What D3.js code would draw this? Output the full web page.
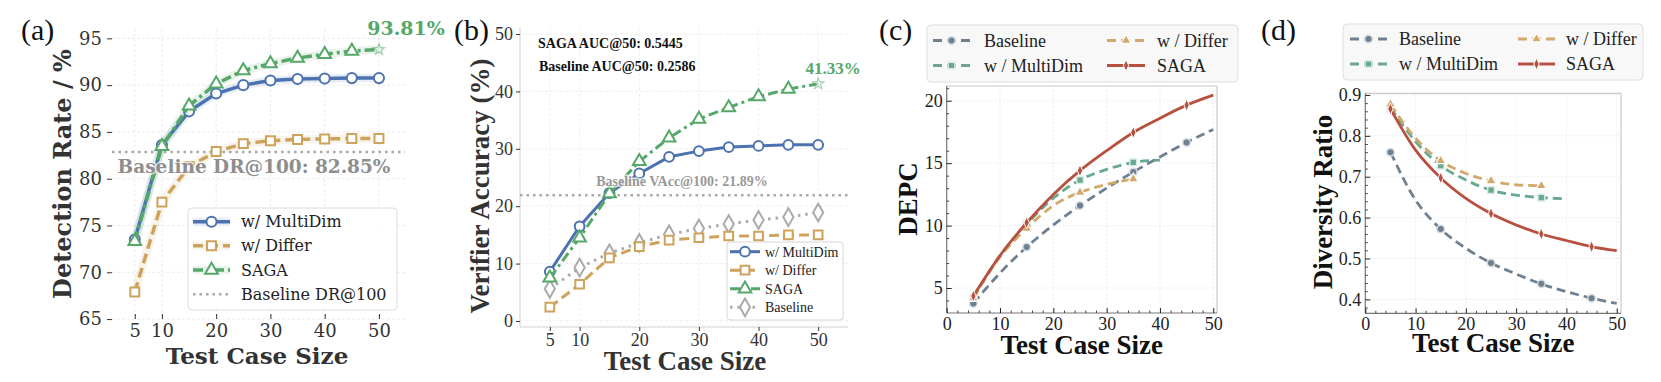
<!DOCTYPE html>
<html>
<head>
<meta charset="utf-8">
<script src="https://cdn.jsdelivr.net/npm/d3@7"></script>
<style>
  body { margin: 0; background: #fff; }
  svg { display: block; }
</style>
</head>
<body>
<svg id="fig" width="1661" height="382"></svg>
<script>
// ---- data ----
const sizes = [5, 10, 15, 20, 25, 30, 35, 40, 45, 50];

// (a) detection rate (%)
const drMultiDim = [73.5, 83.6, 87.2, 89.1, 90.0, 90.5, 90.65, 90.7, 90.75, 90.75];
const drDiffer   = [67.9, 77.5, 81.3, 82.9, 83.75, 84.05, 84.2, 84.25, 84.3, 84.3];
const drSaga     = [73.3, 83.45, 87.8, 90.15, 91.55, 92.3, 92.9, 93.3, 93.65, 93.81];
const drBaselineAt100 = 82.85;
const aTicksX = [5, 10, 20, 30, 40, 50];
const aTicksY = [65, 70, 75, 80, 85, 90, 95];

// (b) verifier accuracy (%)
const vaMultiDim = [8.6, 16.5, 22.3, 25.7, 28.6, 29.6, 30.3, 30.5, 30.7, 30.7];
const vaDiffer   = [2.4, 6.4, 11.0, 12.95, 14.1, 14.5, 14.8, 14.8, 15.0, 15.0];
const vaSaga     = [7.5, 14.5, 22.2, 27.8, 31.9, 35.2, 37.2, 39.1, 40.4, 41.33];
const vaBaseline = [5.6, 9.3, 11.8, 13.6, 15.1, 16.1, 16.9, 17.6, 18.1, 18.9];
const vaBaselineAt100 = 21.89;
const bTicksY = [0, 10, 20, 30, 40, 50];

// (c) DEPC
const depcBaseline = [3.77, 6.2, 8.28, 10.05, 11.6, 13.0, 14.29, 15.5, 16.66, 17.7];
const depcMultiDim = [4.2, 7.6, 10.1, 12.2, 13.65, 14.5, 15.06, 15.25];
const depcDiffer   = [4.2, 7.5, 9.78, 11.6, 12.66, 13.3, 13.73];
const depcSaga     = [4.36, 7.6, 10.23, 12.5, 14.4, 16.0, 17.46, 18.6, 19.65, 20.45];
const cTicksY = [5, 10, 15, 20];

// (d) diversity ratio
const divBaseline = [0.760, 0.643, 0.572, 0.525, 0.489, 0.462, 0.438, 0.419, 0.403, 0.390];
const divMultiDim = [0.870, 0.786, 0.727, 0.692, 0.667, 0.655, 0.649, 0.646];
const divDiffer   = [0.877, 0.794, 0.739, 0.708, 0.690, 0.680, 0.678];
const divSaga     = [0.866, 0.765, 0.697, 0.647, 0.610, 0.582, 0.560, 0.544, 0.529, 0.519];
const dTicksY = [0.4, 0.5, 0.6, 0.7, 0.8, 0.9];

const cdTicksX = [0, 10, 20, 30, 40, 50];

const svg = d3.select('#fig');
const DJ = "'DejaVu Serif', serif";
const TM = "'Liberation Serif', 'Times New Roman', serif";

const blue = '#4c72b0', tan = '#cda35b', green = '#55a868', grey = '#a8a8a8';
const cSlate = '#6f8191', cGreen = '#68a98f', cTan = '#d3a86c', cRed = '#b8503f';

function markerPath(type, size) {
  if (type === 'thin') {
    return `M0,${-size}L${size * 0.45},0L0,${size}L${-size * 0.45},0Z`;
  }
  const t = { circle: d3.symbolCircle, square: d3.symbolSquare, triangle: d3.symbolTriangle,
              diamond: d3.symbolDiamond, star: d3.symbolStar }[type];
  return d3.symbol(t, size)();
}

function text(g, x, y, s, o) {
  const t = g.append('text').attr('x', x).attr('y', y).text(s)
    .attr('font-family', o.font || TM)
    .attr('font-size', o.size)
    .attr('font-weight', o.bold ? 'bold' : 'normal')
    .attr('fill', o.fill || '#222')
    .attr('text-anchor', o.anchor || 'start');
  if (o.dy) t.attr('dy', o.dy);
  if (o.rotate) t.attr('transform', `rotate(-90,${x},${y})`);
  if (o.halo) t.attr('stroke', '#fff').attr('stroke-width', o.halo).attr('stroke-opacity', 0.7)
    .attr('paint-order', 'stroke').attr('stroke-linejoin', 'round');
  return t;
}

// one series: optional halo, line, markers
function series(g, x, y, xs, ys, st) {
  const pts = xs.slice(0, ys.length).map((v, i) => [v, ys[i]]);
  const line = d3.line().x(d => x(d[0])).y(d => y(d[1])).curve(st.curve || d3.curveLinear);
  if (st.halo) {
    g.append('path').attr('d', line(pts)).attr('fill', 'none')
      .attr('stroke', st.color).attr('stroke-opacity', 0.12)
      .attr('stroke-width', st.width + 5).attr('stroke-linecap', 'round').attr('stroke-linejoin', 'round');
  }
  g.append('path').attr('d', line(pts)).attr('fill', 'none')
    .attr('stroke', st.color).attr('stroke-width', st.width)
    .attr('stroke-dasharray', st.dash || null)
    .attr('stroke-linecap', st.cap || 'butt').attr('stroke-linejoin', 'round');
  const mk = pts.filter((d, i) => (st.every ? i % st.every === 0 : true) && !(st.skipLast && i === pts.length - 1));
  g.selectAll(null).data(mk).enter().append('path')
    .attr('d', markerPath(st.marker, st.msize))
    .attr('transform', d => `translate(${x(d[0])},${y(d[1])})`)
    .attr('fill', st.mfill).attr('stroke', st.mstroke).attr('stroke-width', st.msw);
}

function legendEntry(g, x0, x1, cy, st, label, o) {
  if (st.halo) {
    g.append('line').attr('x1', x0).attr('x2', x1).attr('y1', cy).attr('y2', cy)
      .attr('stroke', st.color).attr('stroke-opacity', 0.12).attr('stroke-width', st.width + 5);
  }
  g.append('line').attr('x1', x0).attr('x2', x1).attr('y1', cy).attr('y2', cy)
    .attr('stroke', st.color).attr('stroke-width', st.width).attr('stroke-dasharray', st.dash || null);
  g.append('path').attr('d', markerPath(st.marker, st.msize))
    .attr('transform', `translate(${(x0 + x1) / 2},${cy})`)
    .attr('fill', st.mfill).attr('stroke', st.mstroke).attr('stroke-width', st.msw);
  text(g, o.tx, cy, label, { size: o.size, font: o.font, dy: '0.35em', fill: o.fill || '#222' });
}

function styleAxis(ax, font, size, color) {
  ax.select('.domain').remove();
  ax.selectAll('line').attr('stroke', color);
  ax.selectAll('text').attr('font-family', font).attr('font-size', size).attr('fill', color);
}

// ================= (a) =================
{
  const g = svg.append('g');
  const x = d3.scaleLinear().domain([0.8, 54.8]).range([112, 405]);
  const y = d3.scaleLinear().domain([64.9, 96]).range([320, 29]);

  g.selectAll(null).data(aTicksY).enter().append('line')
    .attr('x1', 112).attr('x2', 405).attr('y1', d => y(d)).attr('y2', d => y(d))
    .attr('stroke', '#ebebeb').attr('stroke-width', 1).attr('stroke-dasharray', '3,2');
  g.selectAll(null).data(aTicksX).enter().append('line')
    .attr('y1', 29).attr('y2', 320).attr('x1', d => x(d)).attr('x2', d => x(d))
    .attr('stroke', '#ebebeb').attr('stroke-width', 1).attr('stroke-dasharray', '3,2');

  const ay = g.append('g').attr('transform', 'translate(112,0)')
    .call(d3.axisLeft(y).tickValues(aTicksY).tickSize(5).tickPadding(5));
  styleAxis(ay, DJ, 18, '#333');
  const ax = g.append('g').attr('transform', 'translate(0,314)')
    .call(d3.axisBottom(x).tickValues(aTicksX).tickSize(5).tickPadding(5));
  styleAxis(ax, DJ, 18, '#333');

  g.append('line').attr('x1', 112).attr('x2', 405)
    .attr('y1', y(drBaselineAt100)).attr('y2', y(drBaselineAt100))
    .attr('stroke', grey).attr('stroke-width', 2.5).attr('stroke-dasharray', '2.5,4');

  const stM = { color: blue, width: 3.5, halo: true, marker: 'circle', msize: 80, mfill: '#fff', mstroke: blue, msw: 2 };
  const stD = { color: tan, width: 3.5, halo: true, dash: '10,5', marker: 'square', msize: 80, mfill: '#fff', mstroke: tan, msw: 2 };
  const stS = { color: green, width: 3.5, halo: true, dash: '10,4,3,4', marker: 'triangle', msize: 70, mfill: '#fff', mstroke: green, msw: 2, skipLast: true };
  series(g, x, y, sizes, drDiffer, stD);
  series(g, x, y, sizes, drMultiDim, stM);
  series(g, x, y, sizes, drSaga, stS);
  g.append('path').attr('d', markerPath('star', 40))
    .attr('transform', `translate(${x(50)},${y(drSaga[9])})`)
    .attr('fill', '#fff').attr('stroke', green).attr('stroke-width', 1.2).attr('opacity', 0.5);

  text(g, 254, 173, `Baseline DR@100: ${drBaselineAt100}%`, { font: DJ, size: 18.5, bold: true, fill: '#8e8e8e', anchor: 'middle', halo: 3 });
  text(g, 406, 35, `${drSaga[9]}%`, { font: DJ, size: 19, bold: true, fill: green, anchor: 'middle' });

  // legend
  g.append('rect').attr('x', 188).attr('y', 208).attr('width', 209).attr('height', 102).attr('rx', 4)
    .attr('fill', '#fff').attr('fill-opacity', 0.85).attr('stroke', '#dcdcdc');
  const lo = { tx: 241, size: 16, font: DJ };
  legendEntry(g, 193, 230, 221.7, stM, 'w/ MultiDim', lo);
  legendEntry(g, 193, 230, 245.8, stD, 'w/ Differ', lo);
  legendEntry(g, 193, 230, 270, stS, 'SAGA', lo);
  g.append('line').attr('x1', 193).attr('x2', 230).attr('y1', 294.3).attr('y2', 294.3)
    .attr('stroke', grey).attr('stroke-width', 2.5).attr('stroke-dasharray', '2.5,4');
  text(g, 241, 294.3, 'Baseline DR@100', { size: 16, font: DJ, dy: '0.35em' });

  text(g, 71, 174, 'Detection Rate / %', { font: DJ, size: 24, bold: true, fill: '#333', anchor: 'middle', rotate: true });
  text(g, 257, 364, 'Test Case Size', { font: DJ, size: 23, bold: true, fill: '#333', anchor: 'middle' });
  text(g, 21, 40, '(a)', { size: 30, fill: '#111' });
}

// ================= (b) =================
{
  const g = svg.append('g');
  const x = d3.scaleLinear().domain([0, 55]).range([520, 848]);
  const y = d3.scaleLinear().domain([-1, 51]).range([326.7, 28.3]);

  g.selectAll(null).data(bTicksY).enter().append('line')
    .attr('x1', 520).attr('x2', 848).attr('y1', d => y(d)).attr('y2', d => y(d))
    .attr('stroke', '#efefef').attr('stroke-dasharray', '3,2');
  g.selectAll(null).data(aTicksX).enter().append('line')
    .attr('y1', 28).attr('y2', 327).attr('x1', d => x(d)).attr('x2', d => x(d))
    .attr('stroke', '#efefef').attr('stroke-dasharray', '3,2');
  g.append('line').attr('x1', 520).attr('x2', 520).attr('y1', 28).attr('y2', 327).attr('stroke', '#d0d0d0');
  g.append('line').attr('x1', 520).attr('x2', 848).attr('y1', 327).attr('y2', 327).attr('stroke', '#d0d0d0');

  const ay = g.append('g').attr('transform', 'translate(520,0)')
    .call(d3.axisLeft(y).tickValues(bTicksY).tickSize(4).tickPadding(3));
  styleAxis(ay, TM, 18, '#333');
  const ax = g.append('g').attr('transform', 'translate(0,327)')
    .call(d3.axisBottom(x).tickValues(aTicksX).tickSize(4).tickPadding(2));
  styleAxis(ax, TM, 18, '#333');

  g.append('line').attr('x1', 520).attr('x2', 848)
    .attr('y1', y(vaBaselineAt100)).attr('y2', y(vaBaselineAt100))
    .attr('stroke', grey).attr('stroke-width', 2.5).attr('stroke-dasharray', '2.5,4');

  const stM = { color: blue, width: 3, marker: 'circle', msize: 75, mfill: '#fff', mstroke: blue, msw: 2 };
  const stD = { color: tan, width: 3, dash: '10,5', marker: 'square', msize: 75, mfill: '#fff', mstroke: tan, msw: 2 };
  const stS = { color: green, width: 3, dash: '10,4,3,4', marker: 'triangle', msize: 70, mfill: '#fff', mstroke: green, msw: 2, skipLast: true };
  const stB = { color: '#aaa', width: 3, dash: '2.5,5', marker: 'diamond', msize: 90, mfill: '#fff', mstroke: '#aaa', msw: 2 };
  series(g, x, y, sizes, vaBaseline, stB);
  series(g, x, y, sizes, vaDiffer, stD);
  series(g, x, y, sizes, vaMultiDim, stM);
  series(g, x, y, sizes, vaSaga, stS);
  g.append('path').attr('d', markerPath('star', 40))
    .attr('transform', `translate(${x(50)},${y(vaSaga[9])})`)
    .attr('fill', '#fff').attr('stroke', green).attr('stroke-width', 1.2).attr('opacity', 0.5);

  text(g, 682, 186, `Baseline VAcc@100: ${vaBaselineAt100}%`, { size: 14, bold: true, fill: '#999', anchor: 'middle', halo: 3 });
  text(g, 833, 74, `${vaSaga[9]}%`, { size: 17, bold: true, fill: green, anchor: 'middle' });
  text(g, 538, 48, 'SAGA AUC@50: 0.5445', { size: 14, bold: true, fill: '#111' });
  text(g, 539, 71, 'Baseline AUC@50: 0.2586', { size: 14, bold: true, fill: '#111' });

  g.append('rect').attr('x', 727).attr('y', 242).attr('width', 116).attr('height', 78).attr('rx', 3)
    .attr('fill', '#fff').attr('fill-opacity', 0.9).attr('stroke', '#d6d6d6');
  const lo = { tx: 765, size: 14, font: TM };
  legendEntry(g, 730, 760, 251.7, stM, 'w/ MultiDim', lo);
  legendEntry(g, 730, 760, 270.2, stD, 'w/ Differ', lo);
  legendEntry(g, 730, 760, 288.8, stS, 'SAGA', lo);
  legendEntry(g, 730, 760, 307.3, stB, 'Baseline', lo);

  text(g, 489, 186, 'Verifier Accuracy (%)', { size: 27, bold: true, fill: '#333', anchor: 'middle', rotate: true });
  text(g, 685, 370, 'Test Case Size', { size: 27, bold: true, fill: '#333', anchor: 'middle' });
  text(g, 454, 40, '(b)', { size: 30, fill: '#111' });
}

// ============ (c) and (d): shared framed style ============
function framedPanel(cfg) {
  const g = svg.append('g');
  const { x, y, L, R, T, B } = cfg;

  g.selectAll(null).data(cdTicksX).enter().append('line')
    .attr('y1', T).attr('y2', B).attr('x1', d => x(d)).attr('x2', d => x(d))
    .attr('stroke', '#ececec').attr('stroke-dasharray', '2,2');
  g.selectAll(null).data(cfg.yTicks).enter().append('line')
    .attr('x1', L).attr('x2', R).attr('y1', d => y(d)).attr('y2', d => y(d))
    .attr('stroke', '#ececec').attr('stroke-dasharray', '2,2');

  // frame: darker left / bottom, light top / right
  g.append('line').attr('x1', L).attr('x2', R).attr('y1', T).attr('y2', T).attr('stroke', '#c8c8c8').attr('stroke-width', 1.2);
  g.append('line').attr('x1', R).attr('x2', R).attr('y1', T).attr('y2', B).attr('stroke', '#c8c8c8').attr('stroke-width', 1.2);
  g.append('line').attr('x1', L).attr('x2', L).attr('y1', T).attr('y2', B).attr('stroke', '#777').attr('stroke-width', 1.2);
  g.append('line').attr('x1', L).attr('x2', R).attr('y1', B).attr('y2', B).attr('stroke', '#777').attr('stroke-width', 1.2);

  const minorX = d3.range(0, 51, 2).filter(v => v % 10 !== 0);
  const axm = g.append('g').attr('transform', `translate(0,${B})`)
    .call(d3.axisBottom(x).tickValues(minorX).tickSize(-2.5).tickFormat(''));
  styleAxis(axm, TM, 17, '#444');
  axm.selectAll('text').remove();
  const ax = g.append('g').attr('transform', `translate(0,${B})`)
    .call(d3.axisBottom(x).tickValues(cdTicksX).tickSize(-5).tickPadding(4));
  styleAxis(ax, TM, 18, '#222');
  const aym = g.append('g').attr('transform', `translate(${L},0)`)
    .call(d3.axisLeft(y).tickValues(cfg.yMinor).tickSize(-2.5).tickFormat(''));
  styleAxis(aym, TM, 17, '#444');
  aym.selectAll('text').remove();
  const ay = g.append('g').attr('transform', `translate(${L},0)`)
    .call(d3.axisLeft(y).tickValues(cfg.yTicks).tickSize(-5).tickPadding(4).tickFormat(cfg.yFmt));
  styleAxis(ay, TM, 18, '#222');
  ay.selectAll('text').attr('x', -4);

  const curve = d3.curveMonotoneX;
  const stB = { color: cSlate, width: 2.8, dash: '9,5', curve, every: 2, marker: 'circle', msize: 45, mfill: cSlate, mstroke: '#d5dbe0', msw: 1.5 };
  const stM = { color: cGreen, width: 2.8, dash: '9,5', curve, every: 2, marker: 'square', msize: 45, mfill: cGreen, mstroke: '#d8ebe3', msw: 1.5 };
  const stD = { color: cTan, width: 2.8, dash: '9,5', curve, every: 2, marker: 'triangle', msize: 45, mfill: cTan, mstroke: '#fff', msw: 1.2 };
  const stS = { color: cRed, width: 2.8, curve, every: 2, marker: 'thin', msize: 6, mfill: cRed, mstroke: '#fff', msw: 1 };
  series(g, x, y, sizes, cfg.data[0], stB);
  series(g, x, y, sizes, cfg.data[1], stM);
  series(g, x, y, sizes, cfg.data[2], stD);
  series(g, x, y, sizes, cfg.data[3], stS);

  const lg = cfg.legend;
  g.append('rect').attr('x', lg.x).attr('y', lg.y).attr('width', lg.w).attr('height', lg.h).attr('rx', 4)
    .attr('fill', '#f8f8f8').attr('stroke', '#dedede');
  const o1 = { tx: lg.t1, size: 18, font: TM }, o2 = { tx: lg.t2, size: 18, font: TM };
  legendEntry(g, lg.h1[0], lg.h1[1], lg.r1, stB, 'Baseline', o1);
  legendEntry(g, lg.h1[0], lg.h1[1], lg.r2, stM, 'w / MultiDim', o1);
  legendEntry(g, lg.h2[0], lg.h2[1], lg.r1, stD, 'w / Differ', o2);
  legendEntry(g, lg.h2[0], lg.h2[1], lg.r2, stS, 'SAGA', o2);

  text(g, cfg.ylab[0], cfg.ylab[1], cfg.ylab[2], { size: 27, bold: true, fill: '#111', anchor: 'middle', rotate: true });
  text(g, (L + R) / 2, cfg.xlabY, 'Test Case Size', { size: 27, bold: true, fill: '#111', anchor: 'middle' });
  text(g, cfg.tag[0], 40, cfg.tag[1], { size: 30, fill: '#111' });
}

framedPanel({
  x: d3.scaleLinear().domain([0, 50.7]).range([946.7, 1217]),
  y: d3.scaleLinear().domain([3.0, 21.18]).range([313, 86]),
  L: 946.7, R: 1217, T: 86, B: 313,
  yTicks: cTicksY, yMinor: d3.range(4, 22, 1).filter(v => v % 5 !== 0), yFmt: d3.format('d'),
  data: [depcBaseline, depcMultiDim, depcDiffer, depcSaga],
  legend: { x: 927, y: 25, w: 311, h: 57, r1: 40.5, r2: 65.5, h1: [933, 970], t1: 984, h2: [1107, 1145], t2: 1157 },
  ylab: [917, 199, 'DEPC'], xlabY: 354, tag: [879, '(c)']
});

framedPanel({
  x: d3.scaleLinear().domain([0, 50.85]).range([1365.3, 1621]),
  y: d3.scaleLinear().domain([0.366, 0.904]).range([313.3, 93.3]),
  L: 1365.3, R: 1621, T: 93.3, B: 313.3,
  yTicks: dTicksY, yMinor: d3.range(0.38, 0.905, 0.02).filter(v => Math.abs(v * 10 - Math.round(v * 10)) > 0.01), yFmt: d3.format('.1f'),
  data: [divBaseline, divMultiDim, divDiffer, divSaga],
  legend: { x: 1343, y: 24, w: 300, h: 56, r1: 39, r2: 64, h1: [1350, 1387], t1: 1399, h2: [1518, 1555], t2: 1566 },
  ylab: [1332, 202, 'Diversity Ratio'], xlabY: 352, tag: [1261, '(d)']
});
</script>
</body>
</html>
